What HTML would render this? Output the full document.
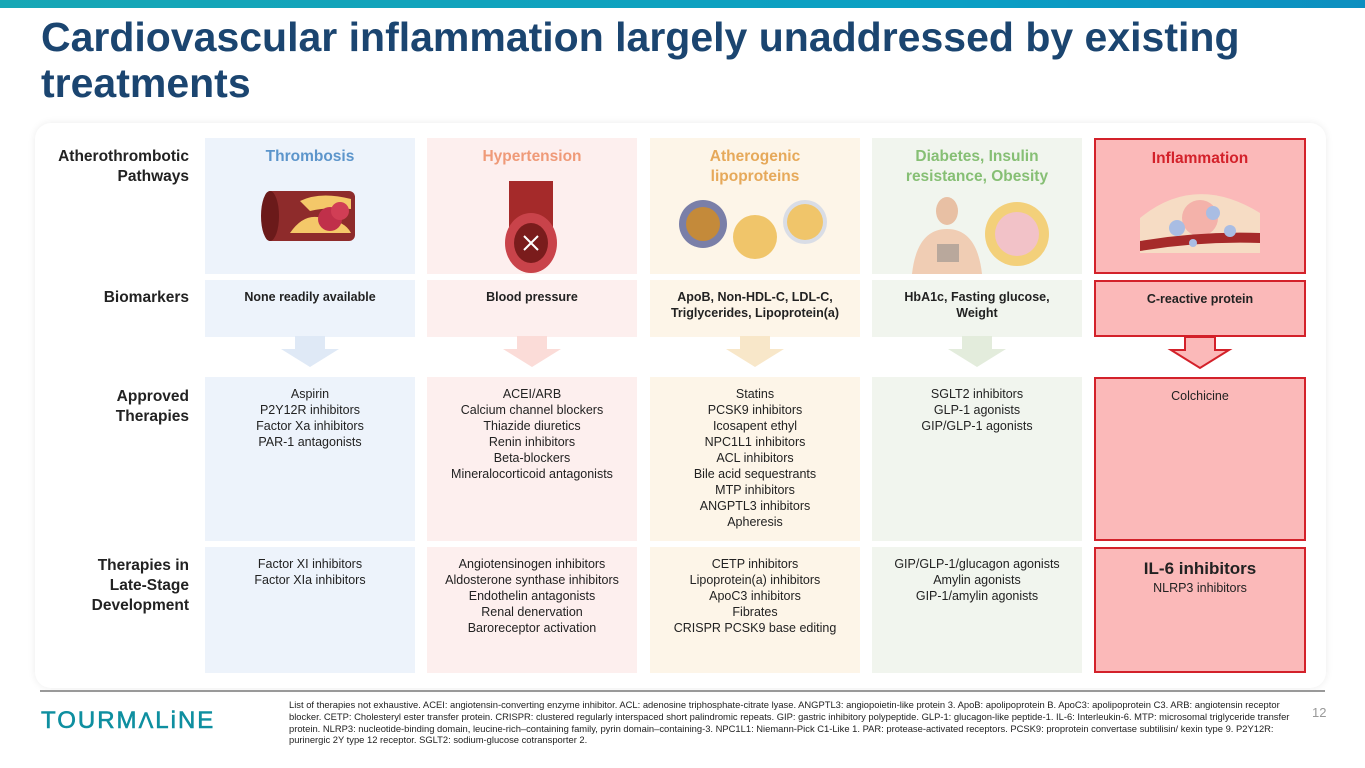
<!DOCTYPE html>
<html><head><meta charset="utf-8">
<style>
*{margin:0;padding:0;box-sizing:border-box}
body{width:1365px;height:768px;background:#fff;font-family:"Liberation Sans",Arial,sans-serif;position:relative;overflow:hidden}
.abs{position:absolute}
.topbar{left:0;top:0;width:1365px;height:8px;background:linear-gradient(90deg,#17a7b5,#0a9fc4 70%,#0d8fc0)}
h1{position:absolute;left:41px;top:14px;width:1300px;font-size:41px;line-height:46px;color:#1b4570;font-weight:bold}
.panel{left:35px;top:123px;width:1291px;height:565px;background:#fff;border-radius:16px;box-shadow:0 0 8px rgba(0,0,0,0.08)}
.rowlab{right:1176px;text-align:right;font-weight:bold;font-size:15.5px;line-height:20px;color:#222}
.cell{position:absolute;text-align:center;font-size:12.5px;line-height:16px;color:#222}
.title{font-weight:bold;font-size:15.5px;line-height:20px;padding-top:9px}
.bio{font-weight:bold;font-size:12.5px;padding-top:9px}
.list{padding-top:9px}
.hr{left:40px;top:690px;width:1285px;height:2px;background:#999}
.foot{left:289px;top:699px;width:1008px;font-size:9.4px;line-height:11.8px;color:#222}
.pg{left:1312px;top:705px;font-size:13px;color:#999}
.logo{left:41px;top:707px;font-size:24px;letter-spacing:2px;color:#0e8fa0;font-weight:normal;-webkit-text-stroke:0.6px #0e8fa0}
</style></head><body>
<div class="abs topbar"></div>
<h1>Cardiovascular inflammation largely unaddressed by existing treatments</h1>
<div class="abs panel"></div>

<div class="abs rowlab" style="top:147px">Atherothrombotic<br>Pathways</div>
<div class="abs rowlab" style="top:288px">Biomarkers</div>
<div class="abs rowlab" style="top:387px">Approved<br>Therapies</div>
<div class="abs rowlab" style="top:556px">Therapies in<br>Late-Stage<br>Development</div>

<div id="grid"></div>

<div class="abs hr"></div>
<div class="abs logo">TOURM<span style="font-size:22px">Λ</span>LiNE</div>
<div class="abs foot">List of therapies not exhaustive. ACEI: angiotensin-converting enzyme inhibitor. ACL: adenosine triphosphate-citrate lyase. ANGPTL3: angiopoietin-like protein 3. ApoB: apolipoprotein B. ApoC3: apolipoprotein C3. ARB: angiotensin receptor blocker. CETP: Cholesteryl ester transfer protein. CRISPR: clustered regularly interspaced short palindromic repeats. GIP: gastric inhibitory polypeptide. GLP-1: glucagon-like peptide-1. IL-6: Interleukin-6. MTP: microsomal triglyceride transfer protein. NLRP3: nucleotide-binding domain, leucine-rich–containing family, pyrin domain–containing-3. NPC1L1: Niemann-Pick C1-Like 1. PAR: protease-activated receptors. PCSK9: proprotein convertase subtilisin/ kexin type 9. P2Y12R: purinergic 2Y type 12 receptor. SGLT2: sodium-glucose cotransporter 2.</div>
<div class="abs pg">12</div>

<script>
const colX=[205,427,650,872,1094];
const colW=[210,210,210,210,212];
const bg=['#edf3fb','#fdefee','#fdf5e8','#f1f5ee','#fbb9b9'];
const arrowCol=['#dfe9f6','#fbdcd8','#f8e7c9','#e3ecdc','#fbb9b9'];
const tc=['#5c95cb','#ef9a78','#e6a95a','#86bf74','#d3212a'];
const titles=['Thrombosis','Hypertension','Atherogenic<br>lipoproteins','Diabetes, Insulin<br>resistance, Obesity','Inflammation'];
const bios=['None readily available','Blood pressure','ApoB, Non-HDL-C, LDL-C,<br>Triglycerides, Lipoprotein(a)','HbA1c, Fasting glucose,<br>Weight','C-reactive protein'];
const approved=[['Aspirin','P2Y12R inhibitors','Factor Xa inhibitors','PAR-1 antagonists'],['ACEI/ARB','Calcium channel blockers','Thiazide diuretics','Renin inhibitors','Beta-blockers','Mineralocorticoid antagonists'],['Statins','PCSK9 inhibitors','Icosapent ethyl','NPC1L1 inhibitors','ACL inhibitors','Bile acid sequestrants','MTP inhibitors','ANGPTL3 inhibitors','Apheresis'],['SGLT2 inhibitors','GLP-1 agonists','GIP/GLP-1 agonists'],['Colchicine']];
const late=[['Factor XI inhibitors','Factor XIa inhibitors'],['Angiotensinogen inhibitors','Aldosterone synthase inhibitors','Endothelin antagonists','Renal denervation','Baroreceptor activation'],['CETP inhibitors','Lipoprotein(a) inhibitors','ApoC3 inhibitors','Fibrates','CRISPR PCSK9 base editing'],['GIP/GLP-1/glucagon agonists','Amylin agonists','GIP-1/amylin agonists'],null];
const names=['thrombosis','hypertension','atherogenic','diabetes','inflammation'];
const icons=[
'<svg width="110" height="70" viewBox="0 0 110 70"><rect x="10" y="10" width="90" height="50" rx="6" fill="#8e2b2b"/><ellipse cx="15" cy="35" rx="9" ry="25" fill="#6b1a1a"/><path d="M35 52 Q50 30 70 38 Q90 40 96 52 Z" fill="#f4c869"/><path d="M45 20 Q65 10 96 18 L96 28 Q70 26 55 30Z" fill="#f4c869"/><circle cx="75" cy="38" r="12" fill="#c0304a"/><circle cx="85" cy="30" r="9" fill="#d13e55"/></svg>',
'<svg width="70" height="95" viewBox="0 0 70 95"><rect x="12" y="0" width="44" height="55" fill="#a52a2a"/><ellipse cx="34" cy="62" rx="26" ry="30" fill="#c9434a"/><ellipse cx="34" cy="62" rx="17" ry="20" fill="#7a1c1c"/><path d="M27 55 L41 69 M41 55 L27 69" stroke="#fff" stroke-width="2"/></svg>',
'<svg width="160" height="80" viewBox="0 0 160 80"><circle cx="28" cy="35" r="24" fill="#7a7fa8"/><circle cx="28" cy="35" r="17" fill="#c48a3a"/><circle cx="80" cy="48" r="22" fill="#f0c56a"/><circle cx="130" cy="33" r="22" fill="#d9dde6"/><circle cx="130" cy="33" r="18" fill="#f0c56a"/></svg>',
'<svg width="160" height="85" viewBox="0 0 160 85"><ellipse cx="50" cy="22" rx="11" ry="14" fill="#e8c0a4"/><path d="M15 85 Q20 40 50 40 Q80 40 85 85Z" fill="#f0cdb4"/><rect x="40" y="55" width="22" height="18" fill="#b9a89c"/><circle cx="120" cy="45" r="32" fill="#f3d07a"/><circle cx="120" cy="45" r="22" fill="#f2c2c8"/></svg>',
'<svg width="130" height="80" viewBox="0 0 130 80"><path d="M5 70 L5 35 Q60 -10 125 30 L125 70Z" fill="#f6dcc4"/><circle cx="65" cy="35" r="18" fill="#f3a0a0" opacity=".7"/><path d="M5 58 Q65 48 125 50 L125 60 Q65 58 5 68Z" fill="#a62a2a"/><circle cx="42" cy="45" r="8" fill="#a9bde3"/><circle cx="78" cy="30" r="7" fill="#a9bde3"/><circle cx="95" cy="48" r="6" fill="#a9bde3"/><circle cx="58" cy="60" r="4" fill="#a9bde3"/></svg>'
];
const g=document.getElementById('grid');
function box(x,y,w,h,color,border,html,name){
  const d=document.createElement('div');
  d.className='cell';
  d.style.cssText=`left:${x}px;top:${y}px;width:${w}px;height:${h}px;background:${color};${border?'border:2px solid #d3212a;':''}`;
  d.innerHTML=html;
  
  
  g.appendChild(d);
  return d;
}
for(let i=0;i<5;i++){
  const x=colX[i],w=colW[i],red=i===4;
  box(x,138,w,136,bg[i],red,`<div class="title" style="color:${tc[i]}">${titles[i]}</div><div style="margin-top:${titles[i].includes('<br>')?2:14}px">${icons[i]}</div>`,names[i]+'-header');
  box(x,280,w,57,bg[i],red,`<div class="bio">${bios[i]}</div>`,names[i]+'-biomarkers');
  const cx=x+w/2;
  const s=document.createElementNS('http://www.w3.org/2000/svg','svg');
  
  
  s.setAttribute('width','70');s.setAttribute('height','34');
  s.style.cssText=`position:absolute;left:${cx-35}px;top:${red?337:336}px`;
  s.innerHTML=`<path d="M20 0 L50 0 L50 13 L64 13 L35 31 L6 13 L20 13Z" fill="${arrowCol[i]}" ${red?'stroke="#d3212a" stroke-width="2"':''}/>`;
  g.appendChild(s);
  box(x,377,w,164,bg[i],red,`<div class="list">${approved[i].join('<br>')}</div>`,names[i]+'-approved');
  const lateHtml=late[i]?`<div class="list">${late[i].join('<br>')}</div>`:`<div style="padding-top:9px;font-weight:bold;font-size:17px;line-height:22px">IL-6 inhibitors</div><div>NLRP3 inhibitors</div>`;
  box(x,547,w,126,bg[i],red,lateHtml,names[i]+'-late-stage');
}
</script>
</body></html>
